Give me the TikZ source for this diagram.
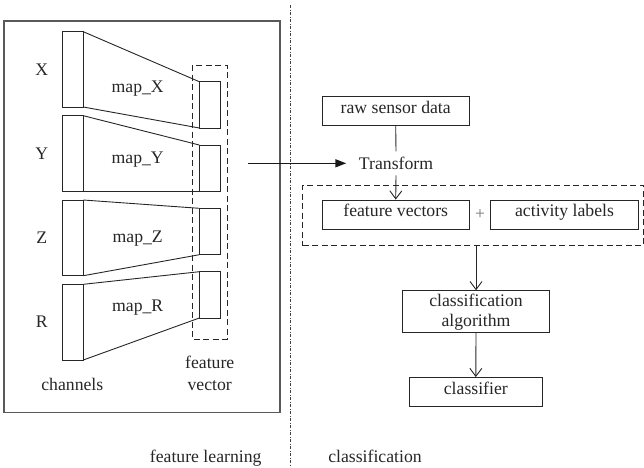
\documentclass[tikz,border=0pt]{standalone}
\usepackage{fontspec}
\setmainfont{Liberation Serif}
\usetikzlibrary{arrows.meta,positioning}
\tikzset{
  every picture/.style={line join=miter},
  lbl/.style={font=\fontsize{17.7}{21}\selectfont, text=black!85},
  wire/.style={draw=black!85, line width=0.9pt},
  stepbox/.style={lbl, wire, inner sep=0pt, minimum height=29pt,
    text height=0.68em, text depth=0.2em},
  grpbox/.style={draw=black!85, line width=0.9pt, dash pattern=on 6pt off 3.5pt},
  flow/.style={wire, -{Straight Barb[length=8pt,width=12pt]}},
}
\begin{document}
\begin{tikzpicture}[x=1pt, y=-1pt,
  frame/.style={draw=black!65, line width=1.2pt},
  split/.style={draw=black!75, line width=0.6pt, dash pattern=on 3pt off 1.6pt on 0.8pt off 1.6pt},
  feed/.style={draw=black!90, line width=1.5pt, -{Triangle[length=11pt,width=8pt]}},
]
\useasboundingbox (0,0) rectangle (644,467);
% one channel: #1 = name, #2/#3 = top/bottom of channel, #4/#5 = top/bottom of its map,
% #6 = baseline of the name, #7 = baseline of the map label
\newcommand{\channel}[7]{%
  \draw[wire] (62.3,#2) rectangle (83.3,#3);
  \draw[wire] (199.3,#4) rectangle (220.3,#5);
  \draw[wire] (83.3,#2) -- (199.3,#4);
  \draw[wire] (83.3,#3) -- (199.3,#5);
  \node[lbl, anchor=base] (name#1) at (41.7,#6) {#1};
  \node[lbl, anchor=base] (map#1) at (137.7,#7) {map\_#1};}

% ------------------------------------------------------------------ feature learning
\draw[frame] (4,21) rectangle (280,412.7);
\channel{X}{31.7}{107}{81.7}{128}{75}{92.7}
\channel{Y}{115.7}{191.3}{145}{191.3}{159.3}{163.3}
\channel{Z}{200}{275.7}{208.3}{254.7}{243.3}{242.7}
\channel{R}{284.3}{360}{271.7}{318}{327.7}{311}
\draw[grpbox] (192.3,65) rectangle (227.3,339);
\node[lbl, anchor=base] (chan) at (72.3,390.7) {channels};
\node[lbl, anchor=base] (fvec) at (209.7,368.3) {feature};
\node[lbl, anchor=base] (fvec2) at (209.7,390) {vector};
\node[lbl, anchor=base] (learn) at (205.7,462.3) {feature learning};

% split between the two halves
\draw[split] (290.7,5) -- (290.7,467);

% ------------------------------------------------------------------ classification
\node[stepbox, minimum width=147.3pt] (raw) at (395.7,111.2) {raw sensor data};
\node[lbl, inner xsep=12.5pt, inner ysep=5.5pt] (trans) at (396,163.3) {Transform};
\node[stepbox, minimum width=147.3pt] (fv) at (395.7,214.5) {feature vectors};
\node[lbl, text=black!55] (plus) at (480,214.3) {+};
\node[stepbox, minimum width=147.6pt] (act) at (564.5,214.5) {activity labels};
\node[grpbox, inner sep=0pt, minimum width=340.6pt, minimum height=60.7pt] (grp) at (473,215.35) {};
\node[lbl, wire, inner sep=0pt, minimum width=147.4pt, minimum height=42pt, align=center]
  (alg) at (476,311.7) {classification\\[-1pt]algorithm};
\node[stepbox, minimum width=133pt] (clf) at (475.8,392) {classifier};
\node[lbl, anchor=base] (cls) at (375,462.3) {classification};

\coordinate (src) at (248.3,163.3);
\draw[feed] (src) -- (trans.west);
\draw[wire] (raw.south) -- (trans.north);
\draw[flow] (trans.south) -- (fv.north);
\draw[flow] (grp.south -| alg.north) -- (alg.north);
\draw[flow] (alg.south) -- (clf.north);
\end{tikzpicture}
\end{document}
